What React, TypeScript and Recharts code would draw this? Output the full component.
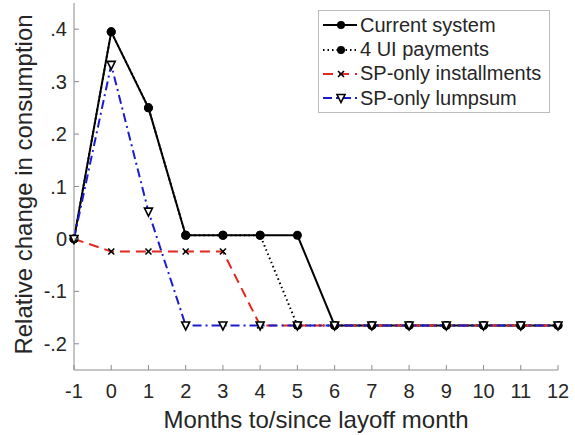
import { Label, Line, LineChart, XAxis, YAxis } from "recharts";

const months = [-1, 0, 1, 2, 3, 4, 5, 6, 7, 8, 9, 10, 11, 12];
const currentSystem = [0, 0.395, 0.25, 0.007, 0.007, 0.007, 0.007, -0.165, -0.165, -0.165, -0.165, -0.165, -0.165, -0.165];
const uiPayments = [0, 0.395, 0.25, 0.007, 0.007, 0.007, -0.165, -0.165, -0.165, -0.165, -0.165, -0.165, -0.165, -0.165];
const spInstallments = [0, -0.024, -0.024, -0.024, -0.024, -0.165, -0.165, -0.165, -0.165, -0.165, -0.165, -0.165, -0.165, -0.165];
const spLumpsum = [0, 0.332, 0.052, -0.165, -0.165, -0.165, -0.165, -0.165, -0.165, -0.165, -0.165, -0.165, -0.165, -0.165];
const yTicks = [-0.2, -0.1, 0, 0.1, 0.2, 0.3, 0.4];

const FONT = '"Liberation Sans", Arial, Helvetica, sans-serif';
const INK = "#262626";
const AXIS = "#8c8c8c";

const data = months.map((m, i) => ({
  m,
  current: currentSystem[i],
  ui: uiPayments[i],
  inst: spInstallments[i],
  lump: spLumpsum[i],
}));

type Marker = "circle" | "x" | "tri";

const series: { key: string; name: string; color: string; dash?: string; marker: Marker }[] = [
  { key: "current", name: "Current system", color: "#000000", marker: "circle" },
  { key: "ui", name: "4 UI payments", color: "#000000", dash: "1.5 3", marker: "circle" },
  { key: "inst", name: "SP-only installments", color: "#e2281f", dash: "10 6", marker: "x" },
  { key: "lump", name: "SP-only lumpsum", color: "#1c1ccf", dash: "9 4 2 4", marker: "tri" },
];

function drawMarker(marker: Marker, cx: number, cy: number, key?: string, small = false) {
  if (marker === "circle") return <circle key={key} cx={cx} cy={cy} r={small ? 4 : 4.5} fill="#000" />;
  if (marker === "x")
    return (
      <g key={key} stroke="#000" strokeWidth={1.6}>
        <line x1={cx - 3} y1={cy - 3} x2={cx + 3} y2={cy + 3} />
        <line x1={cx - 3} y1={cy + 3} x2={cx + 3} y2={cy - 3} />
      </g>
    );
  return (
    <polygon
      key={key}
      points={`${cx - 4},${cy - 3.5} ${cx + 4},${cy - 3.5} ${cx},${cy + 4.5}`}
      fill="#fff"
      stroke="#000"
      strokeWidth={1.6}
    />
  );
}

const fmtY = (v: number) => {
  if (Math.abs(v) < 1e-9) return "0";
  return (v < 0 ? "-" : "") + "." + Math.round(Math.abs(v) * 10);
};

function XTick(props: any) {
  const { x, y, payload } = props;
  return (
    <g>
      <line x1={x} y1={y} x2={x} y2={y - 5} stroke={AXIS} />
      <text x={x} y={y + 28} textAnchor="middle" fontSize={20} fill={INK} fontFamily={FONT}>
        {payload.value}
      </text>
    </g>
  );
}

function YTick(props: any) {
  const { x, y, payload } = props;
  return (
    <g>
      <line x1={x} y1={y} x2={x + 5} y2={y} stroke={AXIS} />
      <text x={x - 7} y={y + 7} textAnchor="end" fontSize={20} fill={INK} fontFamily={FONT}>
        {fmtY(payload.value)}
      </text>
    </g>
  );
}

function LegendBox() {
  return (
    <div
      style={{
        position: "absolute",
        left: 318,
        top: 10,
        width: 230,
        border: "1px solid #bdbdbd",
        background: "#fff",
        padding: "2px 0 1px 0",
        fontFamily: FONT,
        fontSize: 20,
        color: INK,
      }}
    >
      {series.map((s) => (
        <div key={s.key} style={{ display: "flex", alignItems: "center", height: 24.4 }}>
          <svg width={37} height={20} style={{ marginLeft: 4, flex: "none" }}>
            <line x1={0} y1={10} x2={34} y2={10} stroke={s.color} strokeWidth={2} strokeDasharray={s.dash} />
            {drawMarker(s.marker, 18, 10, undefined, true)}
          </svg>
          <span style={{ whiteSpace: "nowrap" }}>{s.name}</span>
        </div>
      ))}
    </div>
  );
}

export default function App() {
  return (
    <div style={{ position: "absolute", left: 0, top: 0, width: 575, height: 435, background: "#fff" }}>
      <LineChart width={575} height={435} data={data} margin={{ top: 3, right: 17, bottom: 0, left: 0 }}>
        <XAxis
          dataKey="m"
          type="number"
          domain={[-1, 12]}
          ticks={months}
          interval={0}
          height={65}
          tickSize={0}
          tickMargin={0}
          tickLine={false}
          axisLine={{ stroke: AXIS }}
          tick={<XTick />}
        >
          <Label
            content={(p: any) => {
              const vb = p.viewBox;
              return (
                <text x={vb.x + vb.width / 2} y={vb.y + 58} textAnchor="middle" fontSize={24} fill={INK} fontFamily={FONT}>
                  Months to/since layoff month
                </text>
              );
            }}
          />
        </XAxis>
        <YAxis
          type="number"
          domain={[-0.25, 0.45]}
          ticks={yTicks}
          interval={0}
          width={74}
          tickSize={0}
          tickMargin={0}
          tickLine={false}
          axisLine={{ stroke: AXIS }}
          tick={<YTick />}
        >
          <Label
            content={(p: any) => {
              const vb = p.viewBox;
              const cy = vb.y + vb.height / 2 - 2;
              return (
                <text
                  x={32}
                  y={cy}
                  transform={`rotate(-90 32 ${cy})`}
                  textAnchor="middle"
                  fontSize={24}
                  fill={INK}
                  fontFamily={FONT}
                >
                  Relative change in consumption
                </text>
              );
            }}
          />
        </YAxis>
        {series.map((s) => (
          <Line
            key={s.key}
            dataKey={s.key}
            name={s.name}
            type="linear"
            stroke={s.color}
            strokeWidth={2}
            strokeDasharray={s.dash}
            isAnimationActive={false}
            dot={(p: any) => drawMarker(s.marker, p.cx, p.cy, `${s.key}-${p.index}`)}
            activeDot={false}
          />
        ))}
      </LineChart>
      <LegendBox />
    </div>
  );
}
